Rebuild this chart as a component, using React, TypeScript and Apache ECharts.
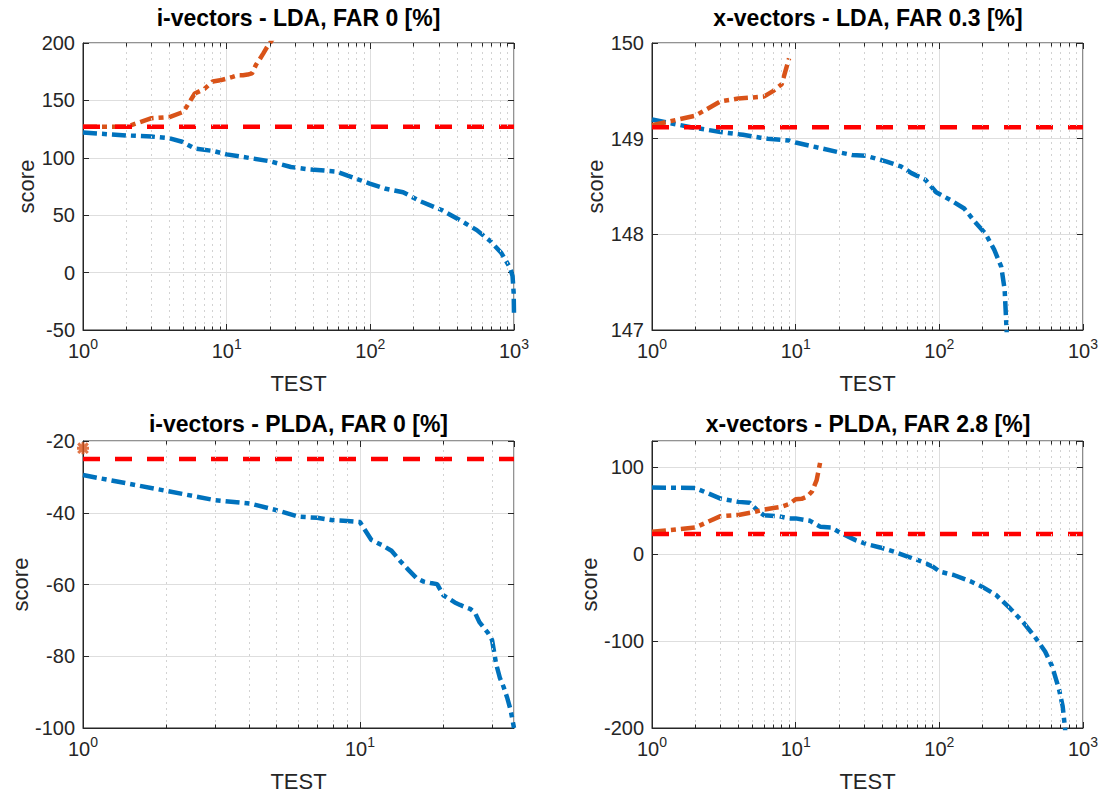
import React, { useEffect, useRef } from "react";
import * as echarts from "echarts";

const FONT = "'Liberation Sans', Arial, Helvetica, sans-serif";
const BLUE = "#0072BD";
const ORANGE = "#D95319";
const RED = "#FF0000";
const AX = "#262626";

const TITLES = [
  "i-vectors - LDA, FAR 0 [%]",
  "x-vectors - LDA, FAR 0.3 [%]",
  "i-vectors - PLDA, FAR 0 [%]",
  "x-vectors - PLDA, FAR 2.8 [%]",
];
const X_NAME = "TEST";
const Y_NAME = "score";

// Panel 1: i-vectors LDA
const P1_BLUE_X = [1, 2, 3, 4, 4.9, 6, 8, 10, 15, 20, 28, 37, 58, 68, 99, 128, 169, 224, 314, 416, 551, 690, 817, 940, 977, 995, 1000];
const P1_BLUE_Y = [122, 119.5, 118.5, 117, 114, 108, 106, 103, 99.5, 97, 92, 90, 88, 85, 77.5, 73, 70, 62, 54.5, 46, 37, 27, 17, 4, -3, -18, -36];
const P1_ORANGE_X = [1, 2, 3, 4, 5, 6, 7, 8, 9, 10, 11, 12, 13, 14, 15, 16, 17, 18, 19, 20, 21, 22];
const P1_ORANGE_Y = [127, 127, 134.5, 135.5, 140, 156, 160, 166.5, 167.5, 169, 170.5, 172, 172, 172.5, 173.5, 181, 186, 191, 196, 200, 204, 208];
const P1_THRESHOLD = 127;
const P1_Y_TICKS = [-50, 0, 50, 100, 150, 200];

// Panel 2: x-vectors LDA
const P2_BLUE_X = [1, 1.86, 3, 4.3, 5.7, 6.4, 9, 10, 14, 19.7, 24.7, 31, 43, 54, 64, 80, 95, 119, 149, 177, 209, 241, 270, 285, 294, 297];
const P2_BLUE_Y = [149.2, 149.12, 149.07, 149.04, 149.01, 149.0, 148.98, 148.96, 148.91, 148.86, 148.83, 148.82, 148.76, 148.71, 148.64, 148.57, 148.44, 148.36, 148.27, 148.13, 148.01, 147.84, 147.66, 147.42, 147.0, 146.8];
const P2_ORANGE_X = [1, 2, 3, 4, 5, 6, 7, 8, 9];
const P2_ORANGE_Y = [149.14, 149.24, 149.39, 149.42, 149.43, 149.44, 149.5, 149.57, 149.84];
const P2_THRESHOLD = 149.12;
const P2_Y_TICKS = [147, 148, 149, 150];

// Panel 3: i-vectors PLDA
const P3_BLUE_X = [1, 2, 3, 4, 5, 6, 7, 8, 9, 10, 11, 12, 13, 14, 15, 16, 17, 18, 19, 20, 21, 22, 23, 24, 25, 26, 27, 28, 29, 30, 31, 32, 33, 34, 35, 36];
const P3_BLUE_Y = [-29.5, -33.9, -36.5, -37.4, -39.3, -41.1, -41.4, -42.1, -42.3, -42.6, -47.6, -49, -50.6, -53.5, -56, -58.2, -59.2, -59.6, -59.9, -63, -64, -65, -65.7, -66.3, -66.8, -67.8, -70.5, -72, -73.5, -75.5, -82, -86, -88.5, -91.5, -95, -100];
const P3_ORANGE_X = [1];
const P3_ORANGE_Y = [-22];
const P3_THRESHOLD = -25;
const P3_Y_TICKS = [-100, -80, -60, -40, -20];

// Panel 4: x-vectors PLDA
const P4_BLUE_X = [1, 2, 3, 4, 4.8, 5.4, 6, 7.6, 9, 10, 12.6, 14.9, 17.6, 20.9, 26.1, 31, 38.7, 48.5, 60.8, 76, 90, 101, 126, 167, 198, 248, 310, 389, 461, 545, 610, 682, 722, 743, 750, 760];
const P4_BLUE_Y = [76.5, 76, 63.8, 60, 58.9, 50.5, 44.7, 43.6, 41, 41, 38.2, 31.3, 30.6, 23.7, 16, 11.5, 7.6, 2.7, -3.1, -8.8, -14.5, -20.3, -24.1, -31.8, -37.5, -47, -62.3, -79.6, -94.9, -112, -129, -156, -175, -194, -200, -215];
const P4_ORANGE_X = [1, 2, 3, 4, 5, 6, 7, 8, 9, 10, 11, 12, 13, 14, 15];
const P4_ORANGE_Y = [25.6, 30.5, 43.6, 45, 48, 51, 53, 54.5, 57.5, 63, 63.5, 66, 72, 85, 110];
const P4_THRESHOLD = 23;
const P4_Y_TICKS = [-200, -100, 0, 100];

const GRIDS = [
  { left: 83, top: 43, width: 431, height: 287 },
  { left: 652, top: 43, width: 432, height: 287 },
  { left: 83, top: 441, width: 431, height: 287 },
  { left: 652, top: 441, width: 432, height: 287 },
];
const TITLE_Y = [18, 18, 424, 424];

const pairs = (xs: number[], ys: number[]) => xs.map((x, i) => [x, ys[i]]);

const minorPositions = (xMax: number) => {
  const out: number[] = [];
  for (let d = 1; d < xMax; d *= 10) {
    for (let k = 2; k <= 9; k++) {
      if (k * d < xMax) out.push(k * d);
    }
  }
  return out;
};

const STAR = "path://M1,1L9,9M9,1L1,9M0,5L10,5M5,0L5,10";
const DASHDOT = [14, 5, 5, 5];

export default function App() {
  const ref = useRef<HTMLDivElement>(null);

  useEffect(() => {
    if (!ref.current) return;
    const chart = echarts.init(ref.current, undefined, { renderer: "svg" });

    const panels = [
      { xMax: 1000, yMin: -50, yMax: 200, yInt: 50, yTicks: P1_Y_TICKS, blue: pairs(P1_BLUE_X, P1_BLUE_Y), orange: pairs(P1_ORANGE_X, P1_ORANGE_Y), thr: P1_THRESHOLD, single: false },
      { xMax: 1000, yMin: 147, yMax: 150, yInt: 1, yTicks: P2_Y_TICKS, blue: pairs(P2_BLUE_X, P2_BLUE_Y), orange: pairs(P2_ORANGE_X, P2_ORANGE_Y), thr: P2_THRESHOLD, single: false },
      { xMax: 36, yMin: -100, yMax: -20, yInt: 20, yTicks: P3_Y_TICKS, blue: pairs(P3_BLUE_X, P3_BLUE_Y), orange: pairs(P3_ORANGE_X, P3_ORANGE_Y), thr: P3_THRESHOLD, single: true },
      { xMax: 1000, yMin: -200, yMax: 130, yInt: 100, yTicks: P4_Y_TICKS, blue: pairs(P4_BLUE_X, P4_BLUE_Y), orange: pairs(P4_ORANGE_X, P4_ORANGE_Y), thr: P4_THRESHOLD, single: false },
    ];

    const xAxis: any[] = [];
    const yAxis: any[] = [];
    const series: any[] = [];
    const graphic: any[] = [];

    panels.forEach((p, g) => {
      const gr = GRIDS[g];
      const isPow10 = (v: number) => {
        const l = Math.log10(v);
        return Math.abs(l - Math.round(l)) < 1e-6;
      };
      xAxis.push({
        type: "log",
        logBase: 10,
        gridIndex: g,
        min: 1,
        max: p.xMax,
        axisLine: { show: true, onZero: false, lineStyle: { color: AX, width: 1 } },
        axisTick: { show: true, inside: true, length: 6, lineStyle: { color: AX } },
        axisLabel: {
          margin: 7,
          formatter: (v: number) => (isPow10(v) ? `{b|10}{s|${Math.round(Math.log10(v))}}` : ""),
          rich: {
            b: { fontSize: 20, fontFamily: FONT, color: AX },
            s: { fontSize: 14, fontFamily: FONT, color: AX, padding: [0, 0, 14, 0] },
          },
        },
        splitLine: { show: true, lineStyle: { color: "#dedede", width: 1 } },
        name: X_NAME,
        nameLocation: "middle",
        nameGap: 42,
        nameTextStyle: { fontSize: 22, fontFamily: FONT, color: AX },
      });
      xAxis.push({
        type: "log",
        logBase: 10,
        gridIndex: g,
        position: "top",
        min: 1,
        max: p.xMax,
        axisLine: { show: false, onZero: false },
        axisTick: { show: true, inside: true, length: 6, lineStyle: { color: AX } },
        axisLabel: { show: false },
        splitLine: { show: false },
      });
      yAxis.push({
        type: "value",
        gridIndex: g,
        min: p.yMin,
        max: p.yMax,
        interval: p.yInt,
        axisLine: { show: true, onZero: false, lineStyle: { color: AX, width: 1 } },
        axisTick: { show: true, inside: true, length: 6, lineStyle: { color: AX } },
        axisLabel: {
          margin: 8,
          fontSize: 20,
          fontFamily: FONT,
          color: AX,
          formatter: (v: number) => (p.yTicks.some((t) => Math.abs(t - v) < 1e-9) ? String(v) : ""),
        },
        splitLine: { show: true, lineStyle: { color: "#dedede", width: 1 } },
        name: Y_NAME,
        nameLocation: "middle",
        nameGap: 42,
        nameTextStyle: { fontSize: 22, fontFamily: FONT, color: AX },
      });
      yAxis.push({
        type: "value",
        gridIndex: g,
        position: "right",
        min: p.yMin,
        max: p.yMax,
        interval: p.yInt,
        axisLine: { show: false, onZero: false },
        axisTick: { show: true, inside: true, length: 6, lineStyle: { color: AX } },
        axisLabel: { show: false },
        splitLine: { show: false },
      });

      const xi = 2 * g;
      const yi = 2 * g;
      const minors = minorPositions(p.xMax);
      const tickLen = ((p.yMax - p.yMin) * 3.5) / gr.height;

      // minor dotted grid
      series.push({
        type: "line",
        xAxisIndex: xi,
        yAxisIndex: yi,
        data: [[1, p.yMin]],
        symbol: "none",
        lineStyle: { opacity: 0 },
        silent: true,
        z: 1,
        markLine: {
          silent: true,
          symbol: ["none", "none"],
          label: { show: false },
          lineStyle: { color: "#d2d2d2", type: [2, 4], width: 1 },
          data: minors.map((v) => ({ xAxis: v })),
        },
      });
      // minor ticks (bottom and top)
      series.push({
        type: "line",
        xAxisIndex: xi,
        yAxisIndex: yi,
        data: [[1, p.yMin]],
        symbol: "none",
        lineStyle: { opacity: 0 },
        silent: true,
        z: 2,
        markLine: {
          silent: true,
          symbol: ["none", "none"],
          label: { show: false },
          lineStyle: { color: AX, type: "solid", width: 1 },
          data: [
            ...minors.map((v) => [{ coord: [v, p.yMin] }, { coord: [v, p.yMin + tickLen] }]),
            ...minors.map((v) => [{ coord: [v, p.yMax] }, { coord: [v, p.yMax - tickLen] }]),
          ],
        },
      });

      series.push({
        type: "line",
        xAxisIndex: xi,
        yAxisIndex: yi,
        data: p.blue,
        symbol: "none",
        lineStyle: { color: BLUE, width: 4.5, type: DASHDOT },
        z: 3,
      });

      if (p.single) {
        series.push({
          type: "scatter",
          xAxisIndex: xi,
          yAxisIndex: yi,
          data: p.orange,
          symbol: STAR,
          symbolSize: 12,
          itemStyle: { color: "rgba(0,0,0,0)", borderColor: ORANGE, borderWidth: 3 },
          clip: false,
          z: 5,
        });
      } else {
        series.push({
          type: "line",
          xAxisIndex: xi,
          yAxisIndex: yi,
          data: p.orange,
          symbol: "none",
          lineStyle: { color: ORANGE, width: 4.5, type: DASHDOT },
          z: 3,
        });
      }

      series.push({
        type: "line",
        xAxisIndex: xi,
        yAxisIndex: yi,
        data: [
          [1, p.thr],
          [p.xMax, p.thr],
        ],
        symbol: "none",
        lineStyle: { color: RED, width: 4.5, type: [17, 15] },
        z: 4,
      });

      graphic.push({
        type: "text",
        x: gr.left + gr.width / 2,
        y: TITLE_Y[g],
        style: {
          text: TITLES[g],
          fontSize: 23,
          fontWeight: "bold",
          fontFamily: FONT,
          fill: "#000",
          align: "center",
          verticalAlign: "middle",
          textAlign: "center",
          textVerticalAlign: "middle",
        },
      });
    });

    chart.setOption({
      animation: false,
      backgroundColor: "#ffffff",
      grid: GRIDS.map((gr) => ({ ...gr, show: true, borderColor: AX, borderWidth: 1, containLabel: false })),
      xAxis,
      yAxis,
      series,
      graphic,
    });

    return () => chart.dispose();
  }, []);

  return (
    <div
      ref={ref}
      style={{ position: "fixed", left: 0, top: 0, width: 1101, height: 793, background: "#fff" }}
    />
  );
}
